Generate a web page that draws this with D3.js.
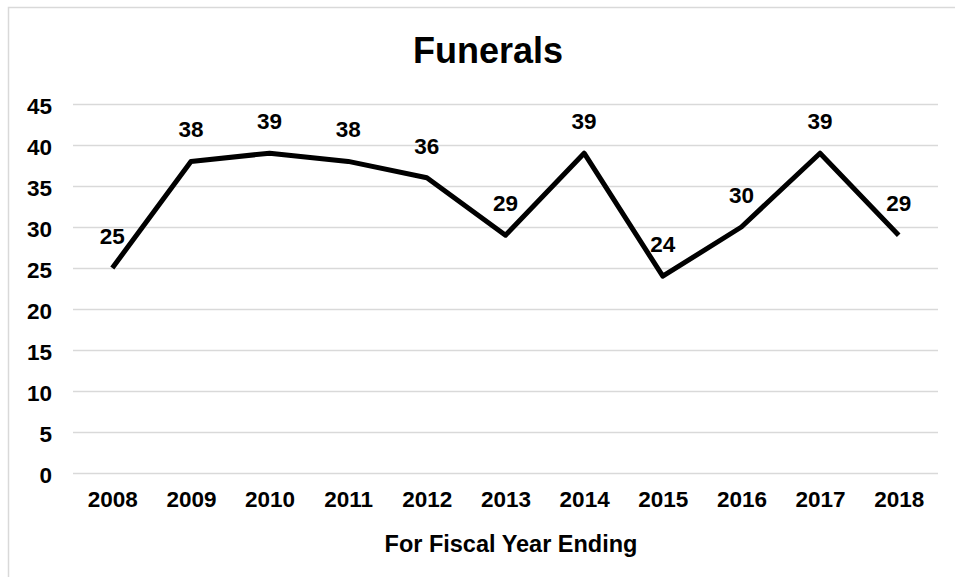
<!DOCTYPE html>
<html>
<head>
<meta charset="utf-8">
<script src="https://cdn.jsdelivr.net/npm/d3@7"></script>
<style>
  html, body { margin: 0; padding: 0; background: #fff; }
  svg { display: block; }
  text { font-family: "Liberation Sans", Arial, sans-serif; font-weight: bold; fill: #000; }
</style>
</head>
<body>
<svg id="chart" width="955" height="577"></svg>
<script>
const years = ["2008","2009","2010","2011","2012","2013","2014","2015","2016","2017","2018"];
const funerals = [25, 38, 39, 38, 36, 29, 39, 24, 30, 39, 29];
const yTicks = [0, 5, 10, 15, 20, 25, 30, 35, 40, 45];
const chartTitle = "Funerals";
const xTitle = "For Fiscal Year Ending";

const svg = d3.select("#chart");
const W = 955, H = 577;
const plot = { left: 73, right: 938, top: 104, bottom: 473 };
const FS = 22.5;

// chart border
svg.append("rect")
  .attr("x", 8.5).attr("y", 7.5)
  .attr("width", W).attr("height", H)
  .attr("fill", "none").attr("stroke", "#d9d9d9").attr("stroke-width", 1.5);

const x = d3.scalePoint().domain(years).range([plot.left, plot.right]).padding(0.5);
const y = d3.scaleLinear().domain([0, 45]).range([plot.bottom, plot.top]);

// gridlines + y labels
const yAxis = d3.axisLeft(y).tickValues(yTicks).tickSize(-(plot.right - plot.left)).tickPadding(21);
const gy = svg.append("g").attr("transform", `translate(${plot.left},0)`).call(yAxis);
gy.select(".domain").remove();
gy.selectAll(".tick line").attr("stroke", "#d9d9d9").attr("stroke-width", 1.5);
gy.selectAll(".tick text").attr("font-size", FS).attr("dy", "0.42em")
  .style("font-family", "'Liberation Sans', Arial, sans-serif").style("font-weight", "bold").attr("fill", "#000");

// x axis labels
const xAxis = d3.axisBottom(x).tickSize(0).tickPadding(18);
const gx = svg.append("g").attr("transform", `translate(0,${plot.bottom})`).call(xAxis);
gx.select(".domain").remove();
gx.selectAll(".tick text").attr("font-size", FS)
  .style("font-family", "'Liberation Sans', Arial, sans-serif").style("font-weight", "bold").attr("fill", "#000");

// line
const line = d3.line().x((d, i) => x(years[i])).y(d => y(d));
svg.append("path").datum(funerals)
  .attr("d", line)
  .attr("fill", "none").attr("stroke", "#000").attr("stroke-width", 5)
  .attr("stroke-linejoin", "round").attr("stroke-linecap", "butt");

// data labels
svg.append("g").selectAll("text").data(funerals).join("text")
  .attr("x", (d, i) => x(years[i]))
  .attr("y", d => y(d) - 24)
  .attr("text-anchor", "middle")
  .attr("font-size", FS)
  .text(d => d);

// titles
svg.append("text").attr("x", 488).attr("y", 63).attr("text-anchor", "middle")
  .attr("font-size", 36).text(chartTitle);
svg.append("text").attr("x", 511).attr("y", 552).attr("text-anchor", "middle")
  .attr("font-size", 23.5).text(xTitle);
</script>
</body>
</html>
